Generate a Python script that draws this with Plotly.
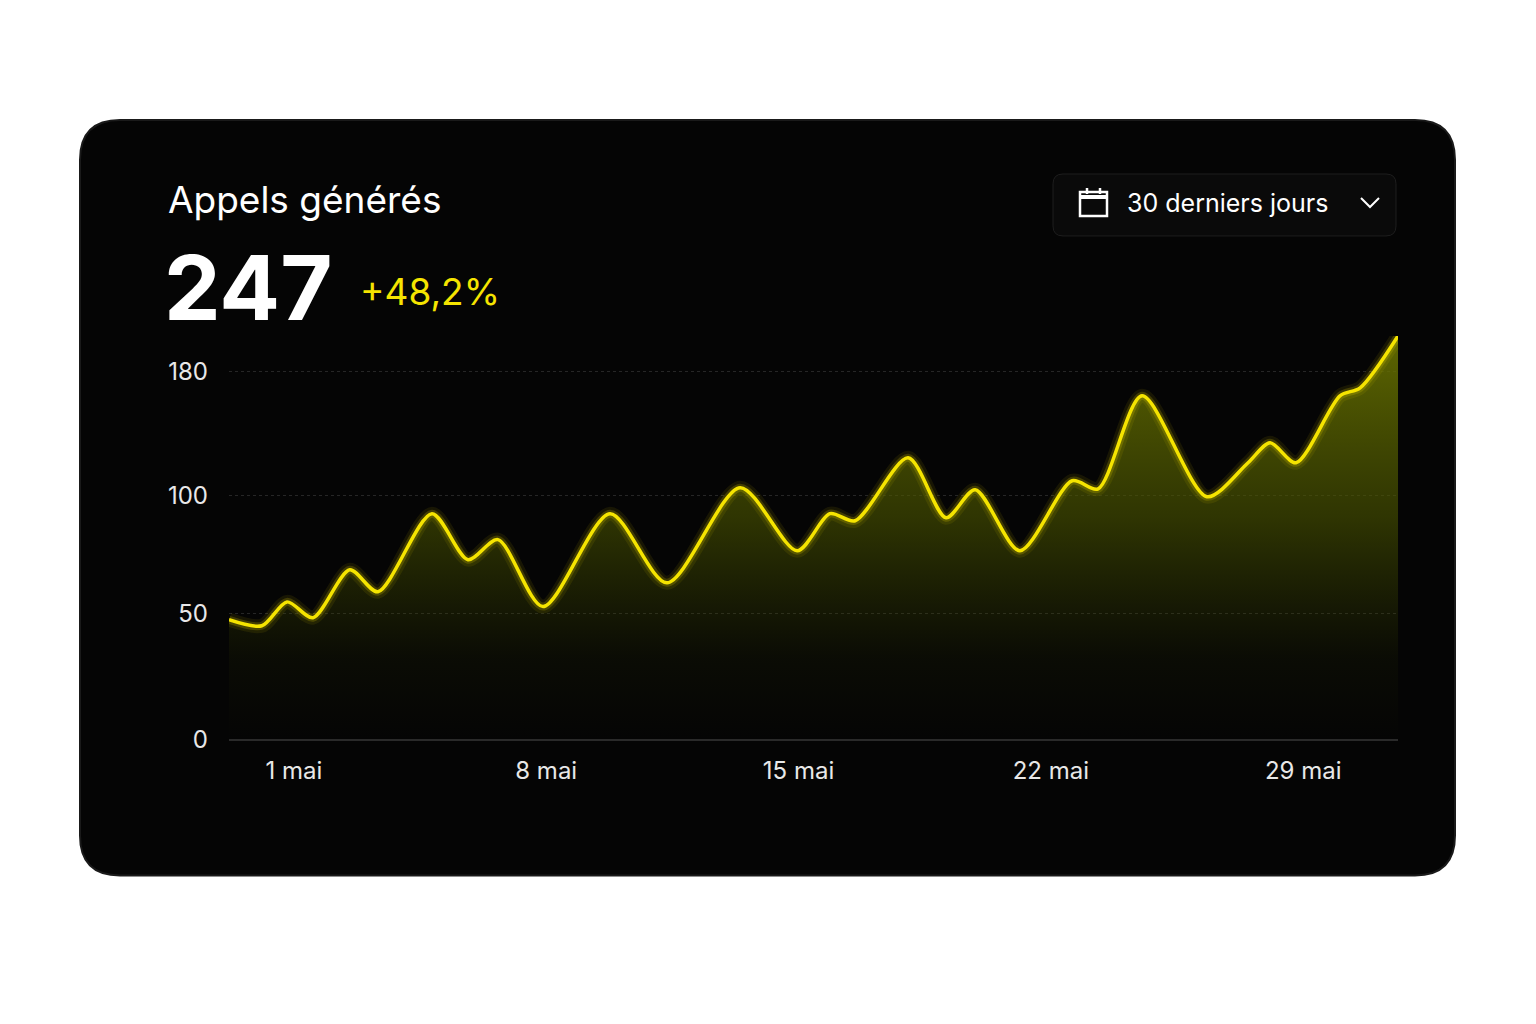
import numpy as np
import plotly.graph_objects as go

# data (day of May, calls)
days = [-0.80, 0.11, 0.81, 1.53, 2.55, 3.33, 4.83, 5.83, 6.66, 7.91, 9.77, 11.35, 13.38, 14.96,
        15.87, 16.57, 18.04, 19.09, 19.90, 21.14, 22.59, 23.31, 24.53, 26.33, 27.47, 28.08,
        28.80, 30.02, 30.58, 31.63]
calls = [47.6, 45.2, 55.0, 48.4, 68.6, 59.3, 92.4, 72.9, 81.4, 53.0, 92.4, 63.1, 105.2, 76.7,
         92.4, 89.4, 124.5, 90.7, 103.9, 76.7, 109.7, 104.5, 164.5, 99.6, 121.3, 134.2,
         121.3, 164.5, 169.7, 203.2]
y_ticks = [0, 50, 100, 180]
x_ticks = [1, 8, 15, 22, 29]
x_labels = ["1 mai", "8 mai", "15 mai", "22 mai", "29 mai"]

# the drawn axis is piecewise linear between its labelled ticks
tick_pos = [0, 126, 244, 368]
def to_axis(v):
    v = np.asarray(v, dtype=float)
    return np.where(v <= 180, np.interp(v, y_ticks, tick_pos),
                    368 + (v - 180) * 124 / 80)

y = to_axis(calls)
# page has an 8px body margin, and the shot comes out slightly squashed vertically
M = 8
KY = 0.9868
W, H = 1536 - 2 * M, 1024 - 2 * M
FONT = "Inter"

fig = go.Figure()
fig.add_trace(go.Scatter(x=days, y=y, mode="lines", line=dict(color="rgba(0,0,0,0)", shape="spline", smoothing=0.8),
                         fill="tozeroy",
                         fillgradient=dict(type="vertical", colorscale=[[0, "rgba(60,70,0,0)"], [0.2, "rgba(60,70,0,0.1)"],
                                                                         [0.55, "rgba(75,85,0,0.6)"], [1, "rgba(110,120,0,0.85)"]]),
                         hoverinfo="skip"))
for w, a in [(14, 0.08), (8, 0.18)]:
    fig.add_trace(go.Scatter(x=days, y=y, mode="lines", line=dict(color=f"rgba(255,235,0,{a})", width=w, shape="spline", smoothing=0.8), hoverinfo="skip"))
fig.add_trace(go.Scatter(x=days, y=y, mode="lines", line=dict(color="#f5e400", width=3.5, shape="spline", smoothing=0.8)))

def px_x(p): return (p - M) / W
def px_y(p): return 1 - (p / KY - M) / H

def rounded(x0, y0, x1, y1, r):
    return (f"M {x0+r},{y0} L {x1-r},{y0} Q {x1},{y0} {x1},{y0+r} L {x1},{y1-r} Q {x1},{y1} {x1-r},{y1} "
            f"L {x0+r},{y1} Q {x0},{y1} {x0},{y1-r} L {x0},{y0+r} Q {x0},{y0} {x0+r},{y0} Z")

def conv(path):
    out = []
    for tok in path.split():
        if "," in tok:
            a, b = tok.split(",")
            out.append(f"{px_x(float(a)):.5f},{px_y(float(b)):.5f}")
        else:
            out.append(tok)
    return " ".join(out)

shapes = [
    dict(type="path", xref="paper", yref="paper", path=conv(rounded(80, 120, 1455, 876, 40)), fillcolor="#050505",
         line=dict(color="#1a1a1a", width=2), layer="below"),
    dict(type="path", xref="paper", yref="paper", path=conv(rounded(1053, 174, 1396, 236, 10)), fillcolor="#0a0a0a",
         line=dict(color="#1e1e1e", width=1), layer="below"),
    # calendar icon
    dict(type="rect", xref="paper", yref="paper", x0=px_x(1080), x1=px_x(1107), y0=px_y(216), y1=px_y(192),
         line=dict(color="white", width=2.5)),
    dict(type="line", xref="paper", yref="paper", x0=px_x(1080), x1=px_x(1107), y0=px_y(197), y1=px_y(197),
         line=dict(color="white", width=4)),
    # chevron
    dict(type="path", xref="paper", yref="paper", path=conv("M 1361,198 L 1370,207 L 1379,198"),
         line=dict(color="white", width=2)),
]
for cx in [1087, 1100]:
    shapes.append(dict(type="line", xref="paper", yref="paper", x0=px_x(cx), x1=px_x(cx), y0=px_y(188), y1=px_y(194),
                       line=dict(color="white", width=2.5)))

annotations = [
    dict(text="Appels générés", x=px_x(166), y=px_y(200), xanchor="left", yanchor="middle",
         font=dict(size=37, color="white", family=FONT)),
    dict(text="<b>247</b>", x=px_x(162), y=px_y(288), xanchor="left", yanchor="middle",
         font=dict(size=90, color="white", family=FONT)),
    dict(text="+48,2%", x=px_x(358), y=px_y(292), xanchor="left", yanchor="middle",
         font=dict(size=37, color="#f5e400", family=FONT)),
    dict(text="30 derniers jours", x=px_x(1125), y=px_y(203), xanchor="left", yanchor="middle",
         font=dict(size=25, color="white", family=FONT)),
]
for a in annotations:
    a.update(xref="paper", yref="paper", showarrow=False)

fig.update_layout(
    width=W, height=H, margin=dict(l=0, r=0, t=0, b=0),
    paper_bgcolor="white", plot_bgcolor="rgba(0,0,0,0)", showlegend=False,
    shapes=shapes, annotations=annotations,
    xaxis=dict(domain=[px_x(229), px_x(1398)], range=[days[0], days[-1]], tickvals=x_ticks, ticktext=x_labels,
               showgrid=False, zeroline=False, showline=False, ticks="", ticklabelstandoff=14,
               tickfont=dict(size=24, color="#e8e8e8", family=FONT)),
    yaxis=dict(domain=[px_y(740), px_y(336)], range=[0, 404], tickvals=to_axis(y_ticks), ticktext=[str(t) for t in y_ticks],
               showgrid=True, gridcolor="#262626", griddash="dot", gridwidth=1, zeroline=True, zerolinecolor="#2a2a2a",
               ticks="", ticklabelstandoff=20, tickfont=dict(size=24, color="#e8e8e8", family=FONT)),
)
fig.write_html("out.html")
